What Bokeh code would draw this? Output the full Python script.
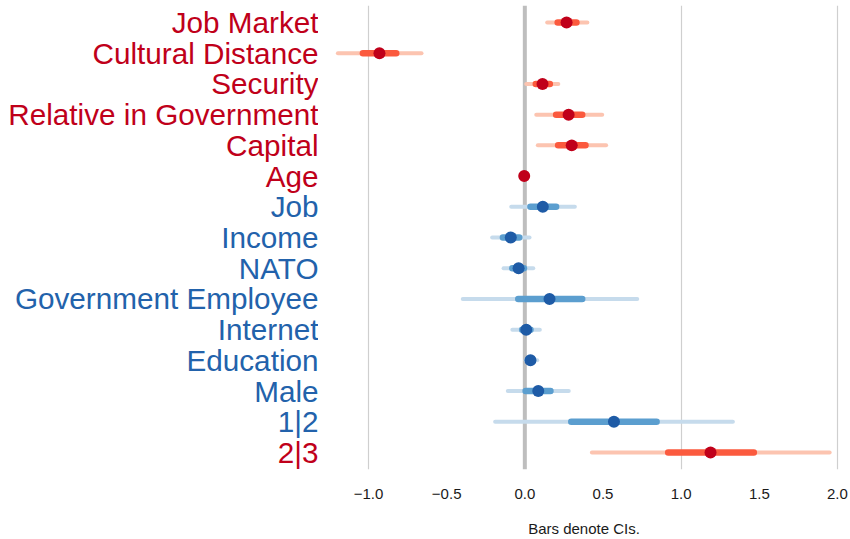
from bokeh.plotting import figure
from bokeh.layouts import row
from bokeh.models import FixedTicker, Span, ColumnDataSource, Range1d
from bokeh.core.properties import value
from bokeh.embed import file_html
from bokeh.resources import INLINE

# Coefficients of the ordered model, top row first
terms = ["Job Market", "Cultural Distance", "Security", "Relative in Government",
         "Capital", "Age", "Job", "Income", "NATO", "Government Employee",
         "Internet", "Education", "Male", "1|2", "2|3"]
estimate = [0.267, -0.93, 0.113, 0.28, 0.30, -0.004, 0.115, -0.09, -0.04, 0.158,
            0.009, 0.036, 0.086, 0.57, 1.188]
inner_low = [0.21, -1.036, 0.07, 0.20, 0.213, -0.008, 0.036, -0.14, -0.08, -0.042,
             -0.017, 0.02, 0.005, 0.297, 0.917]
inner_high = [0.33, -0.823, 0.16, 0.367, 0.388, 0.0, 0.20, -0.036, -0.006, 0.367,
              0.036, 0.052, 0.164, 0.843, 1.465]
outer_low = [0.143, -1.196, 0.009, 0.073, 0.083, -0.012, -0.087, -0.209, -0.136, -0.397,
             -0.08, 0.005, -0.109, -0.19, 0.429]
outer_high = [0.40, -0.661, 0.214, 0.495, 0.52, 0.004, 0.32, 0.03, 0.054, 0.719,
              0.096, 0.079, 0.281, 1.331, 1.95]
# direction of each effect: "pos" drawn in reds, "neg" in blues
group = ["pos", "pos", "pos", "pos", "pos", "pos", "neg", "neg", "neg", "neg",
         "neg", "neg", "neg", "neg", "pos"]

x_ticks = [-1.0, -0.5, 0.0, 0.5, 1.0, 1.5, 2.0]
x_tick_labels = ["\u22121.0", "\u22120.5", "0.0", "0.5", "1.0", "1.5", "2.0"]
caption = "Bars denote CIs."

palette = {
    "pos": {"outer": "#fcc4b0", "inner": "#fb5a3e", "point": "#c0001a", "text": "#c0001a"},
    "neg": {"outer": "#c6dbec", "inner": "#5b9ecf", "point": "#1e5ba6", "text": "#2262ab"},
}

n = len(terms)
ypos = [n - i for i in range(n)]

src = ColumnDataSource(dict(
    term=terms, y=ypos, est=estimate,
    il=inner_low, ih=inner_high, ol=outer_low, oh=outer_high,
    c_outer=[palette[g]["outer"] for g in group],
    c_inner=[palette[g]["inner"] for g in group],
    c_point=[palette[g]["point"] for g in group],
    c_text=[palette[g]["text"] for g in group],
    lab_x=[1.0] * n,
))

y_range = Range1d(0.446, 15.554)
common = dict(height=539, y_range=y_range, output_backend="svg", toolbar_location=None,
              min_border_top=5, min_border_bottom=70)

# left panel: coefficient names
lab = figure(width=318, x_range=(0, 1), min_border_left=0, min_border_right=0, **common)
lab.axis.visible = False
lab.grid.visible = False
lab.outline_line_color = None
lab.text(x="lab_x", y="y", text="term", source=src, text_color="c_text",
         text_align="right", text_baseline="middle",
         text_font=value("Liberation Sans"), text_font_size="29.7px")

# right panel: estimates with confidence bars
p = figure(width=532, x_range=(-1.32, 2.077), min_border_left=0, min_border_right=1, **common)
p.outline_line_color = None

# grid only at the whole numbers; the zero reference line is drawn separately
p.ygrid.visible = False
p.xgrid.ticker = FixedTicker(ticks=[-1.0, 1.0, 2.0])
p.xgrid.grid_line_color = "#cfcfcf"
p.xgrid.grid_line_width = 1.2
p.add_layout(Span(location=0, dimension="height", line_color="#bebebe", line_width=4,
                  level="underlay"))

p.yaxis.visible = False
ax = p.xaxis[0]
ax.ticker = FixedTicker(ticks=x_ticks)
ax.major_label_overrides = {t: l for t, l in zip(x_ticks, x_tick_labels)}
ax.axis_line_color = None
ax.major_tick_line_color = None
ax.minor_tick_line_color = None
ax.major_label_standoff = 13
ax.major_label_text_font = "Liberation Sans"
ax.major_label_text_font_size = "15px"
ax.major_label_text_color = "#1a1a1a"
ax.axis_label = caption
ax.axis_label_standoff = 18
ax.axis_label_text_font = "Liberation Sans"
ax.axis_label_text_font_style = "normal"
ax.axis_label_text_font_size = "15px"
ax.axis_label_text_color = "#1a1a1a"

# wide bar, narrow bar, then the point estimate
p.segment(x0="ol", x1="oh", y0="y", y1="y", source=src, line_color="c_outer",
          line_width=4, line_cap="round")
p.segment(x0="il", x1="ih", y0="y", y1="y", source=src, line_color="c_inner",
          line_width=6.5, line_cap="round")
p.scatter(x="est", y="y", source=src, size=12, fill_color="c_point", line_color=None)

layout = row(lab, p, spacing=0)
open("out.html", "w").write(file_html(layout, INLINE))
